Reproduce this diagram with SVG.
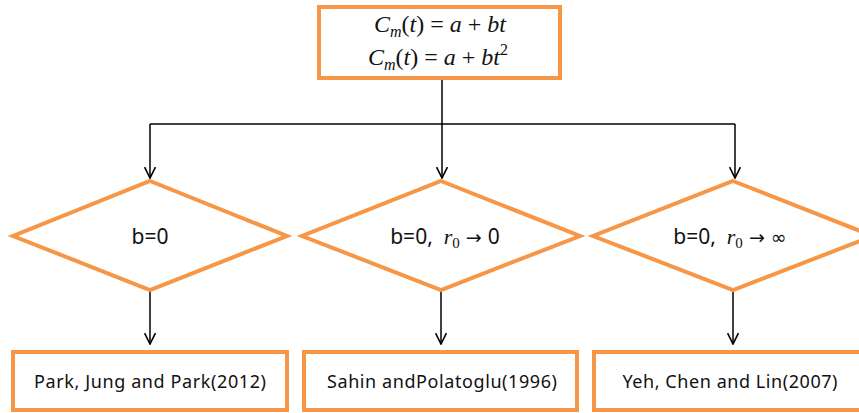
<svg xmlns="http://www.w3.org/2000/svg" width="859" height="413" viewBox="0 0 859 413">
<defs>
<style>
.box{fill:#fff;stroke:#F79646;stroke-width:4}
.conn{fill:none;stroke:#000;stroke-width:1.5}
.lbl{font-family:"Noto Sans","Open Sans",sans-serif;font-size:21px;fill:#111;text-anchor:middle}
.ref{font-family:"Noto Sans","Open Sans",sans-serif;font-size:18px;fill:#111;text-anchor:middle}
.math{font-family:"Liberation Serif","DejaVu Serif",serif;font-size:24px;fill:#111;text-anchor:middle}
.it{font-style:italic}
.sm{font-family:"Liberation Serif",serif}
.ar{font-family:"DejaVu Sans",sans-serif;font-size:19px}
</style>
<marker id="arr" viewBox="0 0 12 12" refX="11" refY="6" markerWidth="13" markerHeight="13" markerUnits="userSpaceOnUse" orient="auto">
<path d="M1,1 L11,6 L1,11" fill="none" stroke="#000" stroke-width="1.5"/>
</marker>
</defs>
<rect width="859" height="413" fill="#fff"/>
<g id="connectors">
<path class="conn" d="M442,80 V178" marker-end="url(#arr)"/>
<path class="conn" d="M150,124 H735"/>
<path class="conn" d="M150,124 V178" marker-end="url(#arr)"/>
<path class="conn" d="M735,124 V178" marker-end="url(#arr)"/>
<path class="conn" d="M150,291 V344" marker-end="url(#arr)"/>
<path class="conn" d="M441,291 V344" marker-end="url(#arr)"/>
<path class="conn" d="M733,291 V344" marker-end="url(#arr)"/>
</g>
<g id="top">
<rect class="box" x="319" y="7" width="241" height="71"/>
<text class="math" x="440" y="32"><tspan class="it">C</tspan><tspan class="it" font-size="16" dy="5">m</tspan><tspan dy="-5">(</tspan><tspan class="it">t</tspan>) = <tspan class="it">a</tspan> + <tspan class="it">bt</tspan></text>
<text class="math" x="438" y="65"><tspan class="it">C</tspan><tspan class="it" font-size="16" dy="5">m</tspan><tspan dy="-5">(</tspan><tspan class="it">t</tspan>) = <tspan class="it">a</tspan> + <tspan class="it">bt</tspan><tspan font-size="16" dy="-10">2</tspan></text>
</g>
<g id="d1">
<polygon class="box" points="150,181 287,236 150,290 13,236"/>
<text class="lbl" x="150" y="244">b=0</text>
</g>
<g id="d2">
<polygon class="box" points="441,181 580,236 441,290 302,236"/>
<text class="lbl" x="445" y="244" xml:space="preserve">b=0,  <tspan class="it sm" font-size="22">r</tspan><tspan class="sm" font-size="15" dy="4">0</tspan><tspan dy="-4" class="ar"> → </tspan><tspan>0</tspan></text>
</g>
<g id="d3">
<polygon class="box" points="733,181 873,236 733,290 593,236"/>
<text class="lbl" x="730" y="244" xml:space="preserve">b=0,  <tspan class="it sm" font-size="22">r</tspan><tspan class="sm" font-size="15" dy="4">0</tspan><tspan dy="-4" class="ar"> → </tspan><tspan class="ar" font-size="21">∞</tspan></text>
</g>
<g id="b1">
<rect class="box" x="13" y="352" width="274" height="58"/>
<text class="ref" x="150" y="388" textLength="232" lengthAdjust="spacing">Park, Jung and Park(2012)</text>
</g>
<g id="b2">
<rect class="box" x="304" y="352" width="273" height="58"/>
<text class="ref" x="442" y="388" textLength="230" lengthAdjust="spacing">Sahin andPolatoglu(1996)</text>
</g>
<g id="b3">
<rect class="box" x="594" y="352" width="280" height="58"/>
<text class="ref" x="730" y="388" textLength="215" lengthAdjust="spacing">Yeh, Chen and Lin(2007)</text>
</g>
</svg>
